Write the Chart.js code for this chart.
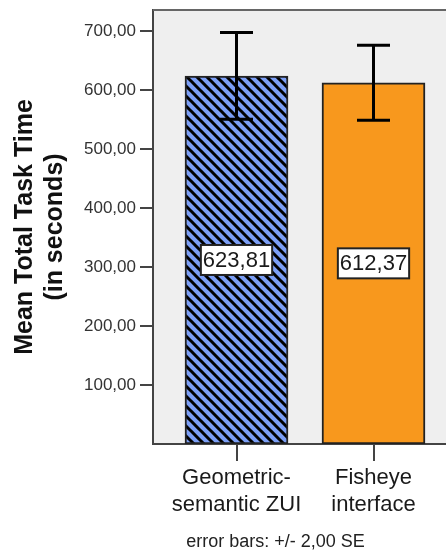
<!DOCTYPE html>
<html>
<head>
<meta charset="utf-8">
<script src="https://cdn.jsdelivr.net/npm/chart.js@4/dist/chart.umd.min.js"></script>
<style>
  html, body { margin: 0; padding: 0; background: #fff; overflow: hidden; }
  #wrap { width: 446px; height: 552px; }
</style>
</head>
<body>
<div id="wrap"><canvas id="c" width="446" height="552"></canvas></div>
<script>
// Interface conditions (one bar each)
const categories = [['Geometric-', 'semantic ZUI'], ['Fisheye', 'interface']];
// Mean total task time in seconds
const meanTimes = [623.81, 612.37];
// Half-width of the error bars (2 standard errors)
const twoSE = [73.5, 63.5];
// Value-axis tick labels
const yTickValues = [100, 200, 300, 400, 500, 600, 700];

const FONT = '"Liberation Sans", Arial, sans-serif';
const fmt = v => v.toFixed(2).replace('.', ',');

function stripePattern(bg, line) {
  const s = 10;
  const c = document.createElement('canvas');
  c.width = s; c.height = s;
  const g = c.getContext('2d');
  g.fillStyle = bg;
  g.fillRect(0, 0, s, s);
  g.strokeStyle = line;
  g.lineWidth = 3;
  g.beginPath();
  for (const k of [-s, 0, s]) {
    g.moveTo(k - 1, -1);
    g.lineTo(k + s + 1, s + 1);
  }
  g.stroke();
  return document.getElementById('c').getContext('2d').createPattern(c, 'repeat');
}

const plotFrame = {
  id: 'plotFrame',
  beforeDraw(chart) {
    const { ctx, chartArea: a } = chart;
    ctx.save();
    ctx.fillStyle = '#ffffff';
    ctx.fillRect(0, 0, chart.width, chart.height);
    ctx.fillStyle = '#efefef';
    ctx.fillRect(a.left, a.top, a.right - a.left, a.bottom - a.top);
    ctx.restore();
  },
  afterDraw(chart) {
    const { ctx, chartArea: a } = chart;
    ctx.save();
    ctx.strokeStyle = '#666';
    ctx.lineWidth = 2;
    ctx.beginPath();
    ctx.moveTo(a.left, a.top);
    ctx.lineTo(a.right, a.top);
    ctx.stroke();
    ctx.fillStyle = '#222';
    ctx.font = '18px ' + FONT;
    ctx.textAlign = 'center';
    ctx.textBaseline = 'middle';
    ctx.fillText('error bars: +/- 2,00 SE', 275.5, 542);
    ctx.restore();
  }
};

const errorBars = {
  id: 'errorBars',
  afterDatasetsDraw(chart) {
    const { ctx } = chart;
    const xs = chart.scales.x, ys = chart.scales.y;
    ctx.save();
    ctx.strokeStyle = '#000';
    ctx.lineWidth = 3;
    meanTimes.forEach((m, i) => {
      const x = xs.getPixelForValue(i);
      const yt = ys.getPixelForValue(m + twoSE[i]);
      const yb = ys.getPixelForValue(m - twoSE[i]);
      ctx.beginPath();
      ctx.moveTo(x, yt); ctx.lineTo(x, yb);
      ctx.moveTo(x - 16.5, yt); ctx.lineTo(x + 16.5, yt);
      ctx.moveTo(x - 16.5, yb); ctx.lineTo(x + 16.5, yb);
      ctx.stroke();
    });
    // value boxes at mid-height of each bar
    ctx.font = '22px ' + FONT;
    ctx.textAlign = 'center';
    ctx.textBaseline = 'middle';
    meanTimes.forEach((m, i) => {
      const x = xs.getPixelForValue(i);
      const y = ys.getPixelForValue(m / 2);
      const txt = fmt(m);
      const w = ctx.measureText(txt).width + 4;
      const h = 30;
      ctx.fillStyle = '#fff';
      ctx.fillRect(x - w / 2, y - h / 2, w, h);
      ctx.strokeStyle = '#222';
      ctx.lineWidth = 2;
      ctx.strokeRect(x - w / 2, y - h / 2, w, h);
      ctx.fillStyle = '#1a1a1a';
      ctx.fillText(txt, x, y + 1);
    });
    ctx.restore();
  }
};

new Chart(document.getElementById('c'), {
  type: 'bar',
  data: {
    datasets: [{
      data: meanTimes.map((v, i) => ({ x: i, y: v })),
      backgroundColor: [stripePattern('#7b9ef5', '#000'), '#f8981d'],
      borderColor: '#222',
      borderWidth: 2,
      borderSkipped: false,
      barThickness: 103
    }]
  },
  options: {
    responsive: false,
    animation: false,
    layout: { padding: { top: 10, left: 0, right: 0, bottom: 0 } },
    plugins: { legend: { display: false }, tooltip: { enabled: false } },
    scales: {
      x: {
        type: 'linear',
        offset: false,
        min: -0.6095,
        max: 1.5292,
        afterBuildTicks: s => { s.ticks = categories.map((c, i) => ({ value: i })); },
        afterFit: s => { s.height = 108; s.paddingLeft = 0; s.paddingRight = 0; },
        grid: { offset: false, drawOnChartArea: false, drawTicks: true, tickLength: 17, color: '#444', lineWidth: 2 },
        border: { display: true, color: '#444', width: 2 },
        ticks: {
          autoSkip: false,
          maxRotation: 0,
          padding: 3,
          color: '#1a1a1a',
          font: { family: FONT, size: 22, lineHeight: 1.24 },
          callback: v => categories[Math.round(v)]
        }
      },
      y: {
        type: 'linear',
        min: 0,
        max: 735.6,
        afterBuildTicks: s => { s.ticks = yTickValues.map(v => ({ value: v })); },
        afterFit: s => { s.width = 153; s.paddingTop = 0; s.paddingBottom = 0; },
        grid: { drawOnChartArea: false, drawTicks: true, tickLength: 13, color: '#444', lineWidth: 2 },
        border: { display: true, color: '#444', width: 2 },
        ticks: {
          padding: 4,
          color: '#333',
          font: { family: FONT, size: 17 },
          callback: v => fmt(v)
        },
        title: {
          display: true,
          text: ['Mean Total Task Time', '(in seconds)'],
          color: '#111',
          font: { family: FONT, size: 25, weight: 'bold', lineHeight: 1.2 },
          padding: { top: 10, bottom: 0 }
        }
      }
    }
  },
  plugins: [plotFrame, errorBars]
});
</script>
</body>
</html>
